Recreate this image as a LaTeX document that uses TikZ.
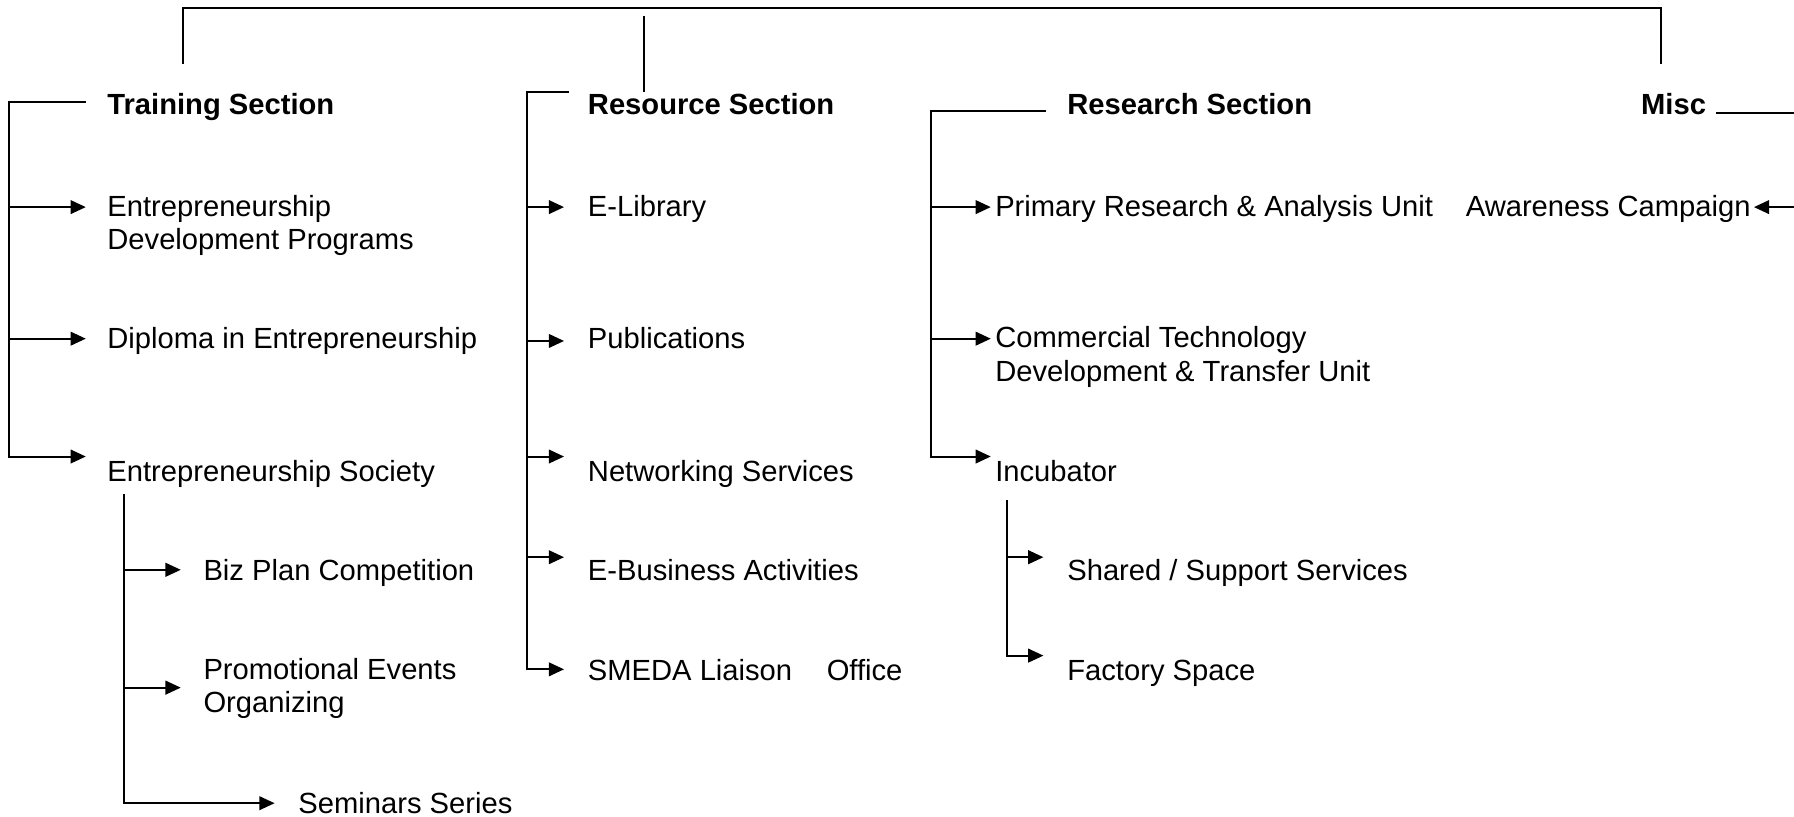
\documentclass[tikz,border=0pt]{standalone}
\usepackage{fontspec}
\setmainfont{Liberation Sans}
\usetikzlibrary{arrows.meta}
\begin{document}
\begin{tikzpicture}[x=0.01cm,y=-0.01cm,line width=0.5pt,
  lbl/.style={anchor=base west,inner sep=0pt,font=\fontsize{7.25pt}{8.3pt}\selectfont,align=left},
  hd/.style={lbl,font=\fontsize{7.25pt}{8.3pt}\selectfont\bfseries},
  arr/.style={-{Triangle[length=3.8pt,width=3.4pt]}}]
\useasboundingbox (0,0) rectangle (1568,714);
% headings
\node[hd] (ts) at (93,100) {Training Section};
\node[hd] (rs) at (513,100) {Resource Section};
\node[hd] (rch) at (932,100) {Research Section};
\node[hd,anchor=base east] (misc) at (1492,100) {Misc};
% training
\node[lbl] (t1) at (93,218) {Entrepreneurship\\Development Programs};
\node[lbl] (t2) at (93,305) {Diploma in Entrepreneurship};
\node[lbl] (t3) at (93,421) {Entrepreneurship Society};
\node[lbl] (s1) at (177,507) {Biz Plan Competition};
\node[lbl] (s2) at (177,623) {Promotional Events\\Organizing};
\node[lbl] (s3) at (260,711) {Seminars Series};
% resource
\node[lbl] (r1) at (513,189) {E-Library};
\node[lbl] (r2) at (513,305) {Publications};
\node[lbl] (r3) at (513,421) {Networking Services};
\node[lbl] (r4) at (513,507) {E-Business Activities};
\node[lbl] (r5) at (513,595) {SMEDA Liaison\hspace{8.6pt}Office};
% research
\node[lbl] (c1) at (869,189) {Primary Research \& Analysis Unit};
\node[lbl] (c2) at (869,333) {Commercial Technology\\Development \& Transfer Unit};
\node[lbl] (c3) at (869,421) {Incubator};
\node[lbl] (i1) at (932,507) {Shared / Support Services};
\node[lbl] (i2) at (932,595) {Factory Space};
% misc
\node[lbl,anchor=base east] (aw) at (1531,189) {Awareness Campaign};
% top bracket
\coordinate (topL) at (160,56);
\coordinate (topR) at (1452,56);
\coordinate (midT) at (563,14);
\coordinate (midB) at (563,80);
\draw (topL) -- (160,7) -- (1452,7) -- (topR);
\draw (midT) -- (midB);
% training connectors
\coordinate (tH) at (75,89);
\coordinate (tA1) at (75,181);
\coordinate (tA2) at (75,296);
\coordinate (tA3) at (75,399);
\draw[arr] (tH) -- (8,89) -- (8,399) -- (tA3);
\draw[arr] (8,181) -- (tA1);
\draw[arr] (8,296) -- (tA2);
\coordinate (sT) at (108,432);
\coordinate (sA1) at (158,498);
\coordinate (sA2) at (158,601);
\coordinate (sA3) at (240,702);
\draw[arr] (sT) -- (108,702) -- (sA3);
\draw[arr] (108,498) -- (sA1);
\draw[arr] (108,601) -- (sA2);
% resource connectors
\coordinate (rH) at (497,80);
\coordinate (rA1) at (493,181);
\coordinate (rA2) at (493,298);
\coordinate (rA3) at (493,399);
\coordinate (rA4) at (493,487);
\coordinate (rA5) at (493,585);
\draw[arr] (rH) -- (461,80) -- (461,585) -- (rA5);
\draw[arr] (461,181) -- (rA1);
\draw[arr] (461,298) -- (rA2);
\draw[arr] (461,399) -- (rA3);
\draw[arr] (461,487) -- (rA4);
% research connectors
\coordinate (cH) at (914,97);
\coordinate (cA1) at (866,181);
\coordinate (cA2) at (866,296);
\coordinate (cA3) at (866,399);
\draw[arr] (cH) -- (814,97) -- (814,399) -- (cA3);
\draw[arr] (814,181) -- (cA1);
\draw[arr] (814,296) -- (cA2);
\coordinate (iT) at (880,437);
\coordinate (iA1) at (912,487);
\coordinate (iA2) at (912,573);
\draw[arr] (iT) -- (880,573) -- (iA2);
\draw[arr] (880,487) -- (iA1);
% misc connectors
\coordinate (mH) at (1500,99);
\coordinate (mR) at (1568,99);
\coordinate (mA) at (1533,181);
\draw (mH) -- (mR);
\draw[arr] (1568,181) -- (mA);
\end{tikzpicture}
\end{document}
